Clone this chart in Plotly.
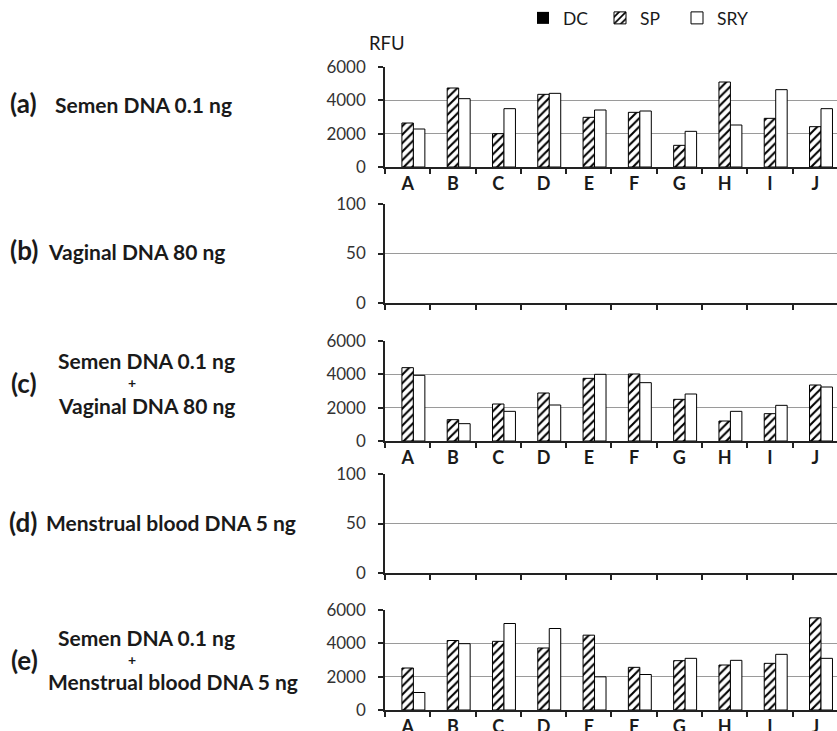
import plotly.graph_objects as go

# ---------------- data ----------------
categories = ["A", "B", "C", "D", "E", "F", "G", "H", "I", "J"]
series_names = ["DC", "SP", "SRY"]

a_dc = [0, 0, 0, 0, 0, 0, 0, 0, 0, 0]
a_sp = [2640, 4740, 2000, 4360, 2980, 3280, 1300, 5100, 2920, 2420]
a_sry = [2280, 4100, 3500, 4420, 3420, 3360, 2140, 2520, 4640, 3500]

b_dc = [0, 0, 0, 0, 0, 0, 0, 0, 0, 0]
b_sp = [0, 0, 0, 0, 0, 0, 0, 0, 0, 0]
b_sry = [0, 0, 0, 0, 0, 0, 0, 0, 0, 0]

c_dc = [0, 0, 0, 0, 0, 0, 0, 0, 0, 0]
c_sp = [4400, 1280, 2220, 2880, 3760, 4020, 2500, 1200, 1640, 3360]
c_sry = [3940, 1040, 1780, 2160, 4000, 3500, 2820, 1780, 2140, 3240]

d_dc = [0, 0, 0, 0, 0, 0, 0, 0, 0, 0]
d_sp = [0, 0, 0, 0, 0, 0, 0, 0, 0, 0]
d_sry = [0, 0, 0, 0, 0, 0, 0, 0, 0, 0]

e_dc = [0, 0, 0, 0, 0, 0, 0, 0, 0, 0]
e_sp = [2520, 4170, 4120, 3720, 4490, 2560, 2960, 2700, 2800, 5530]
e_sry = [1050, 3980, 5190, 4890, 1990, 2130, 3100, 2980, 3340, 3100]

rfu_ticks = [0, 2000, 4000, 6000]
empty_ticks = [0, 50, 100]

panel_labels = ["(a)", "(b)", "(c)", "(d)", "(e)"]

# ---------------- figure ----------------
W, H = 837, 731
FONT = "Lato"
TXT = "#1a1a1a"

panels = [
    dict(vals=(a_dc, a_sp, a_sry), ticks=rfu_ticks, top=67, bot=167, labels=True),
    dict(vals=(b_dc, b_sp, b_sry), ticks=empty_ticks, top=204, bot=303, labels=False),
    dict(vals=(c_dc, c_sp, c_sry), ticks=rfu_ticks, top=341, bot=441, labels=True),
    dict(vals=(d_dc, d_sp, d_sry), ticks=empty_ticks, top=474, bot=573, labels=False),
    dict(vals=(e_dc, e_sp, e_sry), ticks=rfu_ticks, top=610, bot=710, labels=True),
]

def px_x(x):
    return x / W

def px_y(y):
    return 1 - y / H

def markers(has_bars):
    lw = 1 if has_bars else 0
    return [
        dict(color="black", line=dict(color="black", width=0)),
        dict(color="white",
             pattern=dict(shape="/", fgcolor="black", bgcolor="white", size=6,
                          solidity=0.35, fillmode="replace"),
             line=dict(color="black", width=lw)),
        dict(color="white", line=dict(color="black", width=lw)),
    ]

fig = go.Figure()
layout = dict(
    width=W, height=H,
    margin=dict(l=0, r=0, t=0, b=0, autoexpand=False),
    paper_bgcolor="white", plot_bgcolor="white",
    barmode="group", bargap=0.24, bargroupgap=0,
    font=dict(family=FONT, color=TXT),
    legend=dict(orientation="h", x=px_x(523), y=px_y(0), xanchor="left", yanchor="top",
                font=dict(size=17.5, family=FONT, color=TXT), itemwidth=30,
                entrywidth=32, entrywidthmode="pixels", bgcolor="rgba(0,0,0,0)",
                traceorder="normal"),
)

for i, p in enumerate(panels):
    k = i + 1
    xa = "x" if k == 1 else f"x{k}"
    ya = "y" if k == 1 else f"y{k}"
    mk = markers(p["labels"])
    for j, name in enumerate(series_names):
        fig.add_trace(go.Bar(
            x=categories, y=p["vals"][j], name=name, xaxis=xa, yaxis=ya,
            marker=mk[j], showlegend=(k == 1), legendgroup=name,
        ))
    ymax = p["ticks"][-1]
    layout[f"xaxis{k if k > 1 else ''}"] = dict(
        domain=[px_x(385), 1], anchor=ya, type="category",
        categoryorder="array", categoryarray=categories,
        range=[-0.5, 9.48], tickson="boundaries", ticks="outside", ticklen=5,
        tickwidth=1.5, tickcolor="#222",
        showline=True, linecolor="#222", linewidth=1.5, showgrid=False,
        showticklabels=p["labels"],
        tickfont=dict(size=18, family=FONT, color=TXT, weight="bold"),
        fixedrange=True,
    )
    layout[f"yaxis{k if k > 1 else ''}"] = dict(
        domain=[px_y(p["bot"]), px_y(p["top"])], anchor=xa,
        range=[0, ymax], tickvals=p["ticks"], ticks="outside", ticklen=5,
        tickwidth=1.5, tickcolor="#222", ticklabelstandoff=9,
        showline=True, linecolor="#222", linewidth=1.5,
        showgrid=True, gridcolor="#9a9a9a", gridwidth=1, zeroline=False,
        tickfont=dict(size=17, family=FONT, color="#333"),
        fixedrange=True,
    )

fig.update_layout(**layout)

ann = []
def add_text(text, x, y, size, xanchor="left", bold=True):
    ann.append(dict(text=text, x=px_x(x), y=px_y(y), xref="paper", yref="paper",
                    xanchor=xanchor, yanchor="middle", showarrow=False, borderpad=0,
                    font=dict(size=size, family=FONT, color=TXT,
                              weight="bold" if bold else "normal")))

# RFU title
add_text("RFU", 368, 43, 18.5, bold=False)

# panel letters
letter_pos = [(9, 103), (9, 250), (10, 383), (8, 522), (10, 660)]
for lab, (lx, ly) in zip(panel_labels, letter_pos):
    add_text(lab, lx, ly, 26)

# panel descriptions
add_text("Semen DNA 0.1 ng", 54, 104, 21)
add_text("Vaginal DNA 80 ng", 47, 251, 21)
add_text("Semen DNA 0.1 ng", 57, 361, 21)
add_text("+", 132, 383, 14, xanchor="center")
add_text("Vaginal DNA 80 ng", 57, 405, 21)
add_text("Menstrual blood DNA 5 ng", 45, 522, 21)
add_text("Semen DNA 0.1 ng", 57, 637, 21)
add_text("+", 132, 659, 14, xanchor="center")
add_text("Menstrual blood DNA 5 ng", 47, 681, 21)

fig.update_layout(annotations=ann)
fig.write_html(
    "out.html",
    config={"displayModeBar": False, "staticPlot": False},
    post_script="document.body.style.margin='0';document.body.style.overflow='hidden';",
)
